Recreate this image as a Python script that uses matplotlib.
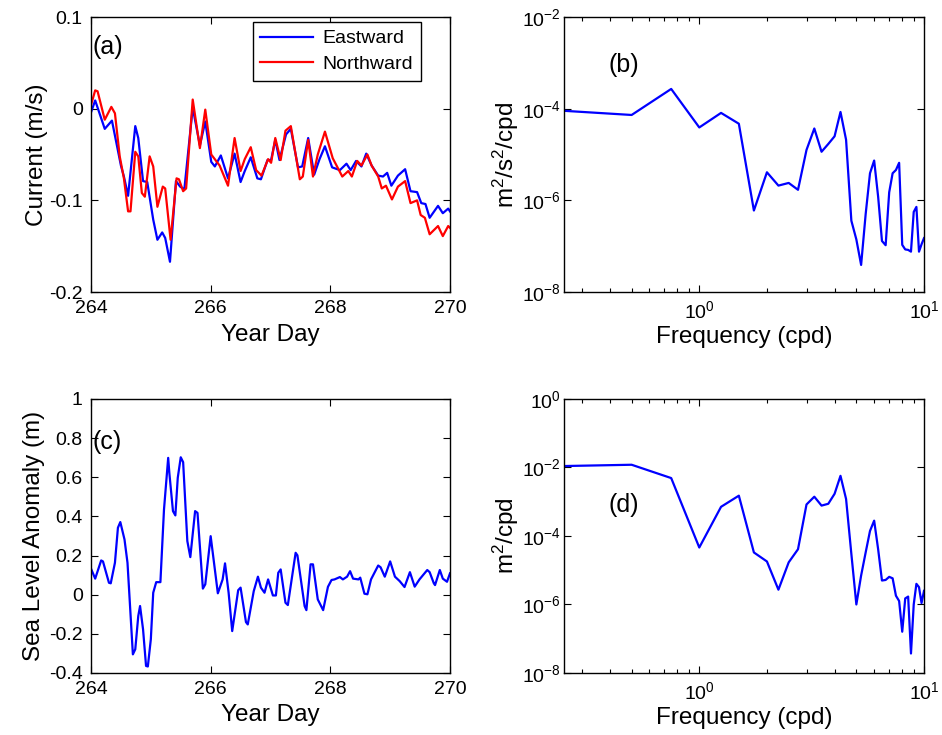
import matplotlib
matplotlib.use("Agg")
import matplotlib.pyplot as plt
import numpy as np
from matplotlib.ticker import FixedLocator, LogLocator, NullFormatter, NullLocator

# (a) currents
day_east = [264.00, 264.07, 264.23, 264.35, 264.50, 264.55, 264.62, 264.74, 264.79, 264.87,
            264.94, 265.04, 265.11, 265.19, 265.24, 265.32, 265.42, 265.49, 265.56, 265.70,
            265.82, 265.91, 266.01, 266.07, 266.17, 266.29, 266.40, 266.50, 266.57, 266.67,
            266.78, 266.84, 266.95, 267.01, 267.08, 267.15, 267.26, 267.34, 267.46, 267.53,
            267.63, 267.73, 267.82, 267.91, 268.03, 268.16, 268.27, 268.34, 268.43, 268.52,
            268.60, 268.69, 268.80, 268.88, 268.95, 269.02, 269.13, 269.25, 269.34, 269.45,
            269.52, 269.59, 269.66, 269.80, 269.88, 269.97, 270.00]
eastward = [-0.004, 0.009, -0.022, -0.013, -0.062, -0.074, -0.095, -0.019, -0.032, -0.079,
            -0.080, -0.121, -0.143, -0.135, -0.141, -0.167, -0.079, -0.085, -0.088, 0.001,
            -0.040, -0.014, -0.058, -0.063, -0.051, -0.076, -0.049, -0.080, -0.068, -0.053,
            -0.076, -0.077, -0.056, -0.056, -0.034, -0.056, -0.028, -0.022, -0.064, -0.063,
            -0.032, -0.072, -0.055, -0.041, -0.064, -0.067, -0.060, -0.067, -0.057, -0.063,
            -0.049, -0.062, -0.073, -0.074, -0.070, -0.084, -0.073, -0.066, -0.090, -0.091,
            -0.103, -0.104, -0.119, -0.106, -0.114, -0.109, -0.112]

day_north = [264.00, 264.07, 264.11, 264.23, 264.34, 264.40, 264.48, 264.55, 264.62, 264.66,
             264.74, 264.79, 264.85, 264.90, 264.98, 265.04, 265.11, 265.20, 265.24, 265.33,
             265.43, 265.47, 265.54, 265.59, 265.70, 265.82, 265.91, 266.01, 266.15, 266.29,
             266.40, 266.50, 266.57, 266.67, 266.76, 266.85, 266.96, 267.01, 267.08, 267.17,
             267.25, 267.34, 267.49, 267.54, 267.63, 267.71, 267.79, 267.91, 268.04, 268.20,
             268.30, 268.36, 268.45, 268.52, 268.62, 268.69, 268.80, 268.86, 268.93, 269.03,
             269.13, 269.25, 269.34, 269.45, 269.51, 269.58, 269.66, 269.80, 269.88, 269.97,
             270.00]
northward = [0.004, 0.020, 0.019, -0.012, 0.002, -0.005, -0.052, -0.076, -0.112, -0.112,
             -0.047, -0.052, -0.092, -0.096, -0.052, -0.063, -0.107, -0.085, -0.087, -0.143,
             -0.076, -0.077, -0.090, -0.087, 0.010, -0.043, -0.001, -0.050, -0.062, -0.084,
             -0.032, -0.068, -0.055, -0.042, -0.067, -0.073, -0.055, -0.059, -0.032, -0.056,
             -0.024, -0.019, -0.077, -0.074, -0.034, -0.074, -0.050, -0.025, -0.054, -0.074,
             -0.068, -0.074, -0.057, -0.062, -0.050, -0.062, -0.074, -0.087, -0.084, -0.099,
             -0.085, -0.079, -0.103, -0.100, -0.116, -0.119, -0.137, -0.128, -0.139, -0.128,
             -0.130]

# (c) sea level anomaly
day_sla = [264.00, 264.07, 264.17, 264.20, 264.30, 264.33, 264.40, 264.45, 264.49, 264.56,
           264.61, 264.70, 264.74, 264.79, 264.82, 264.87, 264.92, 264.95, 265.00, 265.04,
           265.09, 265.16, 265.22, 265.29, 265.31, 265.37, 265.41, 265.45, 265.50, 265.54,
           265.61, 265.66, 265.74, 265.78, 265.87, 265.91, 266.00, 266.07, 266.12, 266.20,
           266.24, 266.30, 266.36, 266.46, 266.50, 266.59, 266.62, 266.72, 266.79, 266.84,
           266.90, 266.96, 267.04, 267.09, 267.13, 267.17, 267.25, 267.29, 267.42, 267.45,
           267.57, 267.60, 267.67, 267.71, 267.79, 267.88, 267.96, 268.02, 268.07, 268.16,
           268.21, 268.28, 268.33, 268.38, 268.47, 268.50, 268.57, 268.62, 268.68, 268.80,
           268.84, 268.91, 269.00, 269.08, 269.16, 269.24, 269.33, 269.41, 269.49, 269.62,
           269.66, 269.73, 269.75, 269.83, 269.88, 269.95, 270.00]
sla = [0.133, 0.082, 0.175, 0.170, 0.061, 0.058, 0.163, 0.342, 0.371, 0.282,
       0.163, -0.305, -0.279, -0.109, -0.058, -0.177, -0.364, -0.367, -0.228, 0.010,
       0.064, 0.064, 0.435, 0.699, 0.620, 0.427, 0.405, 0.597, 0.702, 0.677,
       0.274, 0.192, 0.427, 0.418, 0.031, 0.053, 0.299, 0.129, 0.007, 0.078,
       0.160, 0.010, -0.186, 0.023, 0.036, -0.140, -0.152, 0.018, 0.092, 0.036,
       0.010, 0.078, -0.004, -0.004, 0.112, 0.129, -0.041, -0.053, 0.214, 0.201,
       -0.058, -0.079, 0.155, 0.155, -0.024, -0.079, 0.040, 0.075, 0.078, 0.090,
       0.078, 0.092, 0.120, 0.082, 0.078, 0.087, 0.005, 0.002, 0.078, 0.149,
       0.140, 0.092, 0.170, 0.092, 0.069, 0.039, 0.115, 0.041, 0.078, 0.126,
       0.115, 0.058, 0.049, 0.126, 0.082, 0.066, 0.109]

# (b), (d) spectra
freq = [0.25, 0.5, 0.75, 1.0, 1.25, 1.5, 1.75, 2.0, 2.25, 2.5,
        2.75, 3.0, 3.25, 3.5, 3.75, 4.0, 4.25, 4.5, 4.75, 5.0,
        5.25, 5.5, 5.75, 6.0, 6.25, 6.5, 6.75, 7.0, 7.25, 7.5,
        7.75, 8.0, 8.25, 8.5, 8.75, 9.0, 9.25, 9.5, 9.75, 10.0]
psd_current = [9.0e-5, 7.3e-5, 2.7e-4, 3.9e-5, 8.1e-5, 4.7e-5, 6.0e-7, 4.1e-6, 2.1e-6, 2.4e-6,
               1.7e-6, 1.26e-5, 3.7e-5, 1.15e-5, 1.7e-5, 2.5e-5, 8.5e-5, 2.1e-5, 3.6e-7, 1.4e-7,
               3.9e-8, 5.0e-7, 3.9e-6, 7.4e-6, 1.2e-6, 1.3e-7, 1.05e-7, 1.5e-6, 3.9e-6, 4.6e-6,
               6.6e-6, 1.07e-7, 8.5e-8, 8.3e-8, 7.6e-8, 5.6e-7, 7.2e-7, 7.6e-8, 1.1e-7, 1.5e-7]
psd_sla = [1.1e-2, 1.2e-2, 4.9e-3, 4.6e-5, 7.1e-4, 1.5e-3, 3.3e-5, 1.8e-5, 2.7e-6, 1.7e-5,
           4.1e-5, 8.3e-4, 1.4e-3, 7.7e-4, 8.7e-4, 1.7e-3, 5.7e-3, 1.2e-3, 3.0e-5, 1.0e-6,
           7.0e-6, 3.3e-5, 1.4e-4, 2.8e-4, 4.1e-5, 5.0e-6, 5.2e-6, 6.4e-6, 5.8e-6, 1.8e-6,
           1.26e-6, 1.6e-7, 1.5e-6, 1.7e-6, 3.7e-8, 1.0e-6, 4.0e-6, 3.2e-6, 1.1e-6, 2.5e-6]

plt.rcParams["font.family"] = ["Liberation Sans", "DejaVu Sans"]
plt.rcParams["mathtext.fontset"] = "custom"
plt.rcParams["mathtext.rm"] = "Liberation Sans"
plt.rcParams["mathtext.it"] = "Liberation Sans:italic"
plt.rcParams["axes.unicode_minus"] = False
plt.rcParams["xtick.direction"] = "in"
plt.rcParams["ytick.direction"] = "in"
plt.rcParams["xtick.top"] = True
plt.rcParams["ytick.right"] = True
plt.rcParams["xtick.major.size"] = 5
plt.rcParams["ytick.major.size"] = 5
plt.rcParams["xtick.minor.size"] = 3
plt.rcParams["ytick.minor.size"] = 3
plt.rcParams["xtick.major.pad"] = 6
plt.rcParams["ytick.major.pad"] = 6
plt.rcParams["xtick.labelsize"] = 14
plt.rcParams["ytick.labelsize"] = 14
plt.rcParams["axes.labelsize"] = 17.5

BLUE = "#0000ff"
RED = "#ff0000"

fig = plt.figure(figsize=(9.42, 7.35), dpi=100)
ax_a = fig.add_axes([0.0966, 0.6027, 0.3811, 0.3741])
ax_b = fig.add_axes([0.5987, 0.6027, 0.3822, 0.3741])
ax_c = fig.add_axes([0.0966, 0.0844, 0.3811, 0.3728])
ax_d = fig.add_axes([0.5987, 0.0844, 0.3822, 0.3728])

# (a)
ax_a.plot(day_east, eastward, color=BLUE, lw=1.6, label="Eastward")
ax_a.plot(day_north, northward, color=RED, lw=1.6, label="Northward")
ax_a.set_xlim(264, 270)
ax_a.set_ylim(-0.2, 0.1)
ax_a.set_xticks([264, 266, 268, 270])
ax_a.set_yticks([-0.2, -0.1, 0, 0.1])
ax_a.set_yticklabels(["-0.2", "-0.1", "0", "0.1"])
ax_a.set_xlabel("Year Day", labelpad=5)
ax_a.set_ylabel("Current (m/s)", labelpad=1)
ax_a.text(0.003, 0.89, "(a)", transform=ax_a.transAxes, fontsize=18, va="center")
leg = ax_a.legend(loc="upper right", bbox_to_anchor=(0.919, 0.982), borderaxespad=0,
                  fancybox=False, edgecolor="black", framealpha=1, fontsize=14,
                  handlelength=2.7, borderpad=0.4, labelspacing=0.4, handletextpad=0.5)
leg.get_frame().set_linewidth(1.0)

# (c)
ax_c.plot(day_sla, sla, color=BLUE, lw=1.6)
ax_c.set_xlim(264, 270)
ax_c.set_ylim(-0.4, 1.0)
ax_c.set_xticks([264, 266, 268, 270])
ax_c.set_yticks([-0.4, -0.2, 0, 0.2, 0.4, 0.6, 0.8, 1.0])
ax_c.set_yticklabels(["-0.4", "-0.2", "0", "0.2", "0.4", "0.6", "0.8", "1"])
ax_c.set_xlabel("Year Day", labelpad=4)
ax_c.set_ylabel("Sea Level Anomaly (m)", labelpad=3)
ax_c.text(0.003, 0.844, "(c)", transform=ax_c.transAxes, fontsize=18, va="center")

# (b), (d)
for ax, psd, ylim, yt, lab, ylab, ly in [
    (ax_b, psd_current, (1e-8, 1e-2), [1e-8, 1e-6, 1e-4, 1e-2], "(b)", "m$^2$/s$^2$/cpd", 0.825),
    (ax_d, psd_sla, (1e-8, 1e0), [1e-8, 1e-6, 1e-4, 1e-2, 1e0], "(d)", "m$^2$/cpd", 0.613),
]:
    ax.loglog(freq, psd, color=BLUE, lw=1.6)
    ax.set_xlim(0.25, 10)
    ax.set_ylim(*ylim)
    ax.xaxis.set_major_locator(FixedLocator([1, 10]))
    ax.xaxis.set_minor_locator(LogLocator(base=10, subs=np.arange(2, 10), numticks=20))
    ax.xaxis.set_minor_formatter(NullFormatter())
    ax.yaxis.set_major_locator(FixedLocator(yt))
    ax.yaxis.set_minor_locator(NullLocator())
    ax.tick_params(axis="y", pad=2)
    ax.set_xlabel("Frequency (cpd)", labelpad=3)
    ax.set_ylabel(ylab, labelpad=1)
    ax.text(0.125, ly, lab, transform=ax.transAxes, fontsize=18, va="center")

for ax in (ax_a, ax_b, ax_c, ax_d):
    for s in ax.spines.values():
        s.set_linewidth(1.0)
    ax.tick_params(which="both", width=0.8, colors="black")

fig.savefig("out.png", dpi=100)
